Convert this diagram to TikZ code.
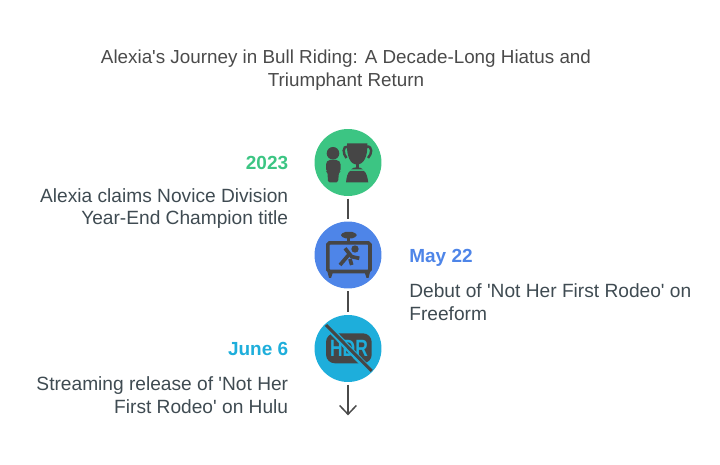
\documentclass[tikz,border=0pt]{standalone}
\usepackage{fontspec}
\usepackage{graphicx}
\setmainfont{Liberation Sans}[Ligatures=TeXOff]
\definecolor{titlegrey}{HTML}{4A4A4A}
\definecolor{bodygrey}{HTML}{3F4B52}
\definecolor{icongrey}{HTML}{464646}
\definecolor{linegrey}{HTML}{4A4A4A}
\definecolor{yeargreen}{HTML}{3CC583}
\definecolor{tvblue}{HTML}{4E85E8}
\definecolor{hdrblue}{HTML}{1EAEDB}
\usetikzlibrary{arrows.meta}
\tikzset{
    disc/.style={circle,minimum size=1.34cm,inner sep=0pt,outer sep=0pt},
    datelabel/.style={inner sep=0pt,font=\bfseries\fontsize{10.8}{13}\selectfont},
    bodylabel/.style={inner sep=0pt,text=bodygrey,font=\fontsize{10.9}{13}\selectfont},
    link/.style={linegrey,line width=0.85pt,shorten >=1.5pt,shorten <=1.5pt}
}
\begin{document}
\begin{tikzpicture}[x=0.02cm,y=-0.02cm]
                    \useasboundingbox (0,0) rectangle (720,465);
                    \node [inner sep=0pt,text=titlegrey,align=center,font=\fontsize{10.72}{13}\selectfont] (title) at (346,70.5) {Alexia's Journey in Bull Riding: A Decade-Long Hiatus and\\Triumphant Return};
                    \node [disc,fill=yeargreen] (trophy) at (348,162.5) {};
                    \node [disc,fill=tvblue] (screen) at (348,255) {};
                    \node [disc,fill=hdrblue] (nohdr) at (348,348.5) {};
                    \coordinate (end) at (348,418);
                    \draw [link] (trophy) -- (screen);
                    \draw [link] (screen) -- (nohdr);
                    \draw [link,-{Straight Barb[length=5pt,width=9.5pt]}] (nohdr) -- (end);
                    % labels
                    \node [datelabel,text=yeargreen,anchor=east] (year) at (288.5,163) {2023};
                    \node [bodylabel,anchor=east,align=right] (champion) at (288.5,208.5) {Alexia claims Novice Division\\Year-End Champion title};
                    \node [datelabel,text=tvblue,anchor=west] (may) at (409,257.5) {May 22};
                    \node [bodylabel,anchor=west,align=left] (debut) at (409,302.5) {Debut of 'Not Her First Rodeo' on\\Freeform};
                    \node [datelabel,text=hdrblue,anchor=east] (june) at (288.5,349) {June 6};
                    \node [bodylabel,anchor=east,align=right] (release) at (288.5,395.5) {Streaming release of 'Not Her\\First Rodeo' on Hulu};
                    % trophy icon
                    \draw [fill=icongrey,draw=none] (333,153.3) circle [radius=6.3];
                    \draw [fill=icongrey,draw=none,rounded corners=1] (328,182.5) -- (327.5,172) -- (326,171) -- (326,163) -- (328,160) -- (338,160) -- (340.7,163) -- (340.7,171) -- (339,172) -- (338,182.5) -- cycle;
                    \draw [fill=icongrey,draw=none] (347,143.3) -- (367.3,143.3) .. controls (368,156) and (364,164.5) .. (357,164.5) .. controls (350,164.5) and (346.5,156) .. (347,143.3) -- cycle;
                    \draw [icongrey,line width=1.4pt] (348,146.5) .. controls (342,146) and (343,154) .. (346.5,158);
                    \draw [icongrey,line width=1.4pt] (366.5,146.5) .. controls (373,146) and (372,154) .. (368,158);
                    \draw [fill=icongrey,draw=none] (355.5,163) rectangle (358.5,168);
                    \draw [fill=icongrey,draw=none] (351,169.5) .. controls (353,166.5) and (361,166.5) .. (363,169.5) -- cycle;
                    \draw [fill=icongrey,draw=none] (346,182.5) .. controls (346.5,177) and (347.5,173) .. (350,171) -- (364,171) .. controls (366.5,173) and (367.5,177) .. (368.3,182.5) -- cycle;
                    % tv icon
                    \draw [icongrey,line width=2pt,rounded corners=1] (327.8,242.8) rectangle (370,271.5);
                    \draw [fill=icongrey,draw=none,rounded corners=2.5] (341,232) rectangle (356.7,238.3);
                    \draw [fill=icongrey,draw=none] (347.3,238) rectangle (350.3,242);
                    \draw [fill=icongrey,draw=none] (327.5,272) -- (333,272) -- (331,278) -- (329,278) -- cycle;
                    \draw [fill=icongrey,draw=none] (364.5,272) -- (370,272) -- (368.5,278) -- (366.5,278) -- cycle;
                    \draw [fill=icongrey,draw=none] (355,249) circle [radius=3.7];
                    \draw [icongrey,line width=2.1pt] (345,248.3) -- (351.7,256.7) -- (359.3,258.3);
                    \draw [icongrey,line width=2.1pt] (340,265) -- (350,253.3);
                    \draw [icongrey,line width=2.1pt] (350,259) -- (351.7,265);
                    % hdr icon
                    \draw [fill=icongrey,draw=none,rounded corners=5] (326,333.3) rectangle (371.7,363.3);
                    \node [inner sep=0pt,text=hdrblue,font=\bfseries\fontsize{13.4}{13}\selectfont] (hdr) at (349,348.5) {\scalebox{0.74}[1]{HDR}};
                    \draw [hdrblue,line width=3.6pt] (327,326) -- (371,372);
                    \draw [icongrey,line width=1.7pt] (326,325) -- (371.7,371);
\end{tikzpicture}
\end{document}
